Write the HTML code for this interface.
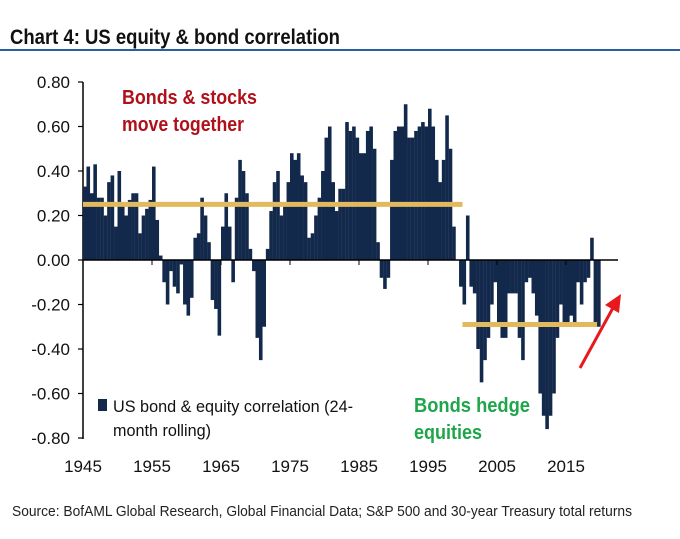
<!DOCTYPE html>
<html><head><meta charset="utf-8"><style>
body{margin:0;background:#fff;width:680px;height:534px;overflow:hidden;font-family:"Liberation Sans",sans-serif;}
</style></head><body>
<svg width="680" height="534" xmlns="http://www.w3.org/2000/svg">
<text x="10" y="44" font-size="21" font-weight="bold" fill="#111" textLength="330" lengthAdjust="spacingAndGlyphs">Chart 4: US equity &amp; bond correlation</text>
<rect x="0" y="49" width="680" height="2" fill="#2a5ea6"/>
<g id="plot"></g>
<text x="12" y="516" font-size="14.5" fill="#222" textLength="620" lengthAdjust="spacingAndGlyphs">Source:  BofAML Global Research, Global Financial Data; S&amp;P 500  and 30-year Treasury total returns</text>
</svg>
<script>
const years = [];
for (let i = 0; i < 150; i++) years.push(1945 + i * 0.5);
const values = [
0.33,0.42,0.30,0.43,0.28,0.28,0.20,0.35,0.38,0.15,
0.40,0.25,0.20,0.27,0.30,0.30,0.12,0.20,0.23,0.27,
0.42,0.18,0.02,-0.10,-0.20,-0.05,-0.12,-0.15,-0.02,-0.20,
-0.25,-0.17,0.10,0.12,0.28,0.20,0.08,-0.18,-0.22,-0.34,
0.15,0.30,0.15,-0.10,0.28,0.45,0.40,0.30,0.05,-0.05,
-0.35,-0.45,-0.30,0.05,0.22,0.35,0.40,0.20,0.25,0.35,
0.48,0.45,0.48,0.38,0.35,0.10,0.12,0.20,0.28,0.40,
0.55,0.60,0.35,0.22,0.32,0.32,0.62,0.58,0.60,0.55,
0.48,0.48,0.58,0.60,0.50,0.08,-0.08,-0.13,-0.08,0.45,
0.58,0.60,0.60,0.70,0.55,0.55,0.58,0.60,0.62,0.60,
0.68,0.60,0.45,0.35,0.45,0.65,0.50,0.15,0.00,-0.12,
-0.20,0.20,-0.12,-0.15,-0.40,-0.55,-0.45,-0.35,-0.20,-0.10,
-0.30,-0.35,-0.35,-0.15,-0.15,-0.15,-0.35,-0.45,-0.10,-0.08,
-0.15,-0.25,-0.60,-0.70,-0.76,-0.70,-0.60,-0.35,-0.20,-0.30,
-0.30,-0.25,-0.30,-0.10,-0.20,-0.10,-0.08,0.10,-0.30,-0.30];
const yTicks = [0.8,0.6,0.4,0.2,0,-0.2,-0.4,-0.6,-0.8];
const xTicks = [1945,1955,1965,1975,1985,1995,2005,2015];
const avgSegments = [{from:1945,to:2000,v:0.25},{from:2000,to:2019.5,v:-0.29}];
const NS="http://www.w3.org/2000/svg";
const X = y => 83 + 6.9*(y-1945);
const Y = v => 260 - 222.5*v;
const g = document.getElementById('plot');
function mk(t,a){const e=document.createElementNS(NS,t);for(const k in a)e.setAttribute(k,a[k]);g.appendChild(e);return e;}
let ax=mk('line',{x1:83,y1:Y(0.8),x2:83,y2:Y(-0.8)+1,stroke:'#000','stroke-width':1.5});


yTicks.forEach(t=>{
 const l=mk('line',{x1:78,x2:83,y1:Y(t),y2:Y(t),stroke:'#000','stroke-width':1.2});
 
 
 const tx=mk('text',{x:70,y:Y(t)+6,'text-anchor':'end','font-size':17,fill:'#111'});
 tx.textContent=(t<0?'-':'')+Math.abs(t).toFixed(2);
 
 
});
values.forEach((v,i)=>{
 const x=X(years[i]);
 const r=mk('rect',{x:x,y:Math.min(Y(v),Y(0)),width:3.6,height:Math.abs(Y(v)-Y(0)),fill:'#13294b'});
 
 
});
let z=mk('line',{x1:83,x2:618,y1:Y(0),y2:Y(0),stroke:'#000','stroke-width':1.5});


xTicks.forEach(t=>{
 const l=mk('line',{x1:X(t),x2:X(t),y1:Y(0),y2:Y(0)+5,stroke:'#000','stroke-width':1});
 
 
 const tx=mk('text',{x:X(t),y:472,'text-anchor':'middle','font-size':17,fill:'#111'});
 tx.textContent=t;
 
 
});
avgSegments.forEach(s=>{
 const l=mk('line',{x1:X(s.from),x2:X(s.to),y1:Y(s.v),y2:Y(s.v),stroke:'#e3b95e','stroke-width':5});
 
 
});
const arr=mk('line',{x1:580,y1:368,x2:614,y2:306,stroke:'#e8191c','stroke-width':3});


const ah=mk('polygon',{points:'621,294 605,305 619,313',fill:'#e8191c'});


function txt(x,y,s,size,fill,w,len,name){const t=mk('text',{x:x,y:y,'font-size':size,fill:fill,'font-weight':w,textLength:len,lengthAdjust:'spacingAndGlyphs'});t.textContent=s;}
txt(122,104,'Bonds & stocks',20,'#b0101a','bold',135,'annotation-together');
txt(122,131,'move together',20,'#b0101a','bold',122,'annotation-together-2');
txt(414,412,'Bonds hedge',20,'#1fa54a','bold',116,'annotation-hedge');
txt(414,439,'equities',20,'#1fa54a','bold',68,'annotation-hedge-2');
const lg=mk('rect',{x:98,y:399,width:9,height:12,fill:'#13294b'});


txt(113,412,'US bond & equity correlation (24-',17,'#111','normal',240,'legend-label');
txt(113,436,'month rolling)',17,'#111','normal',98,'legend-label-2');
</script>
</body></html>
